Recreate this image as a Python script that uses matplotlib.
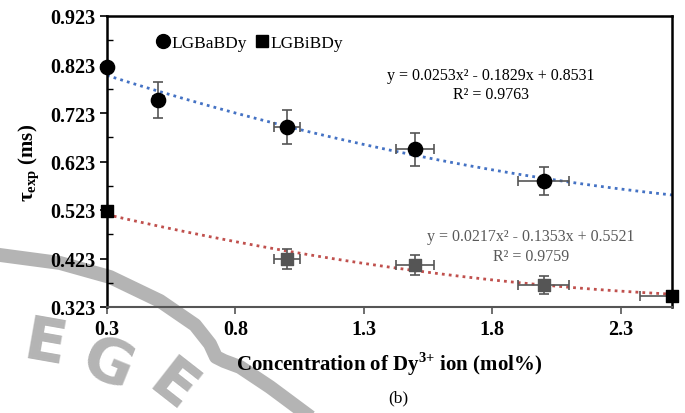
import numpy as np
import matplotlib
matplotlib.use("Agg")
from matplotlib import pyplot as plt
from matplotlib.lines import Line2D

plt.rcParams['font.family'] = ['Liberation Serif', 'DejaVu Serif']
plt.rcParams['mathtext.fontset'] = 'custom'
plt.rcParams['mathtext.rm'] = 'Liberation Serif'
plt.rcParams['mathtext.bf'] = 'Liberation Serif:bold'

# LGBaBDy (circles)
ba_x = [0.3, 0.5, 1.0, 1.5, 2.0]
ba_y = [0.817, 0.750, 0.694, 0.648, 0.582]
ba_xerr = [0.0, 0.02, 0.05, 0.075, 0.10]
ba_yerr = [0.0, 0.037, 0.035, 0.034, 0.029]
ba_fit = [0.0253, -0.1829, 0.8531]

# LGBiBDy (squares)
bi_x = [0.3, 1.0, 1.5, 2.0, 2.5]
bi_y = [0.520, 0.422, 0.410, 0.368, 0.346]
bi_xerr = [0.0, 0.05, 0.075, 0.10, 0.125]
bi_yerr = [0.0, 0.021, 0.020, 0.019, 0.01]
bi_fit = [0.0217, -0.1353, 0.5521]
bi_colors = ['black', '#555555', '#555555', '#555555', 'black']

xticks = [0.3, 0.8, 1.3, 1.8, 2.3]
yticks = [0.323, 0.423, 0.523, 0.623, 0.723, 0.823, 0.923]

W, H = 685, 414
fig = plt.figure(figsize=(W / 100, H / 100), dpi=100)

# faint watermark behind the chart (pixel path -> figure fraction)
wm_px = [(0, 256), (60, 264), (110, 278), (160, 302), (195, 326), (210, 345), (216, 358),
         (224, 362), (240, 368), (270, 388), (305, 414)]
fig.add_artist(Line2D([p[0] / W for p in wm_px], [1 - p[1] / H for p in wm_px], color='#b4b4b4',
                      lw=10, transform=fig.transFigure, zorder=0, solid_joinstyle='round'))
for ch, px, py, rot in [('E', 45, 345, -10), ('G', 108, 366, -22), ('E', 172, 388, -38)]:
    fig.text(px / W, 1 - py / H, ch, fontsize=44, fontweight='bold', family='DejaVu Sans',
             color='#b4b4b4', rotation=rot, ha='center', va='center', zorder=0)

ax = fig.add_axes([107 / W, 1 - 308 / H, 565 / W, 291 / H])
ax.patch.set_alpha(0)

xs = np.linspace(0.3, 2.5, 200)
ax.plot(xs, np.polyval(ba_fit, xs), color='#4472C4', lw=2, linestyle=(0, (1, 1.5)), zorder=2)
ax.plot(xs, np.polyval(bi_fit, xs), color='#C0504D', lw=2, linestyle=(0, (1, 1.5)), zorder=2)

ax.errorbar(ba_x, ba_y, xerr=ba_xerr, yerr=ba_yerr, fmt='none', ecolor='#555555',
            elinewidth=1.2, capsize=3.5, capthick=1.2, zorder=3)
ax.errorbar(bi_x, bi_y, xerr=bi_xerr, yerr=bi_yerr, fmt='none', ecolor='#555555',
            elinewidth=1.2, capsize=3.5, capthick=1.2, zorder=3)
ax.scatter(ba_x, ba_y, s=105, marker='o', color='black', zorder=4, clip_on=False)
ax.scatter(bi_x, bi_y, s=75, marker='s', color=bi_colors, zorder=4, clip_on=False)

ax.set_xlim(0.3, 2.5)
ax.set_ylim(0.323, 0.923)
ax.set_xticks(xticks)
ax.set_xticklabels([f'{v:.1f}' for v in xticks])
ax.set_yticks(yticks)
ax.set_yticklabels([f'{v:.3f}' for v in yticks])
ax.set_yticks([v + 0.05 for v in yticks[:-1]], minor=True)

for lab in ax.get_xticklabels() + ax.get_yticklabels():
    lab.set_fontweight('bold')
ax.tick_params(axis='x', direction='out', length=5, width=1.2, color='#555555', labelsize=14.5, pad=4)
ax.tick_params(axis='y', which='major', direction='out', length=5, width=1.2, labelsize=14.5, pad=3)
ax.tick_params(axis='y', which='minor', direction='in', length=4, width=1)

for s in ['left', 'top', 'right']:
    ax.spines[s].set_linewidth(1.8)
    ax.spines[s].set_color('black')
ax.spines['bottom'].set_linewidth(1.5)
ax.spines['bottom'].set_color('#555555')

ax.set_ylabel('τ$_{\\mathbf{exp}}$ (ms)', fontsize=15, fontweight='bold', labelpad=6)
ax.set_xlabel('Concentration of Dy$^{\\mathbf{3{+}}}$ ion (mol%)', fontsize=15, fontweight='bold',
              labelpad=7)

handles = [Line2D([], [], marker='o', color='black', linestyle='none', markersize=10),
           Line2D([], [], marker='s', color='black', linestyle='none', markersize=9)]
ax.legend(handles, ['LGBaBDy', 'LGBiBDy'], ncol=2, loc='upper left', bbox_to_anchor=(0.06, 0.99),
          frameon=False, fontsize=12.5, handlelength=0.7, handletextpad=0.15, columnspacing=0.5)

ax.text(0.68, 0.765, 'y = 0.0253x² - 0.1829x + 0.8531\nR² = 0.9763', transform=ax.transAxes,
        ha='center', va='center', fontsize=11.5, color='black', linespacing=1.3)
ax.text(0.75, 0.21, 'y = 0.0217x² - 0.1353x + 0.5521\nR² = 0.9759', transform=ax.transAxes,
        ha='center', va='center', fontsize=11.5, color='#595959', linespacing=1.3)

fig.text(398 / W, 1 - 398 / H, '(b)', fontsize=12.5, ha='center', va='center')

fig.savefig('out.png', dpi=100)
